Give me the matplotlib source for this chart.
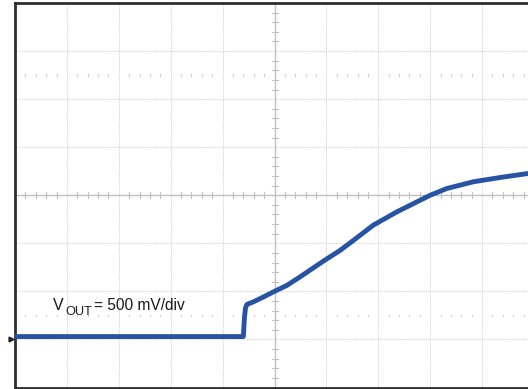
import matplotlib
matplotlib.use('Agg')
import matplotlib.pyplot as plt
import numpy as np

trace_x = [0.00, 4.40, 4.42, 4.44, 4.47, 4.59, 4.78, 4.98, 5.24, 5.49, 5.97,
           6.26, 6.52, 6.90, 7.35, 7.74, 8.00, 8.32, 8.83, 9.35, 9.90]
trace_y = [-2.94, -2.94, -2.56, -2.35, -2.27, -2.22, -2.12, -2.01, -1.875, -1.70,
           -1.35, -1.15, -0.94, -0.625, -0.35, -0.14, 0.00, 0.14, 0.28, 0.37, 0.455]
ground_level = -3.0
label_main = "V"
label_sub = "OUT"
label_rest = "= 500 mV/div"

W, H = 528, 389
fig = plt.figure(figsize=(W / 100, H / 100), dpi=100)
x0px, x1px = 15, 528
ytop, ybot = 3, 387.5
div_px = 51.9
ax = fig.add_axes([x0px / W, 1 - ybot / H, (x1px - x0px) / W, (ybot - ytop) / H])
xmax = (x1px - x0px) / div_px
ax.set_xlim(0, xmax)
ax.set_ylim(-4, 4)
ax.set_xticks([])
ax.set_yticks([])
for s in ['left', 'top', 'bottom']:
    ax.spines[s].set_linewidth(2.0)
    ax.spines[s].set_color('#2e2e2e')
ax.spines['right'].set_visible(False)

grid_c = '#d2d2d2'
dot_ls = (0, (1.0, 1.0))
for gx in range(1, 10):
    if gx == 5:
        continue
    ax.axvline(gx, color=grid_c, lw=0.75, ls=dot_ls, zorder=1)
for gy in range(-3, 4):
    if gy == 0:
        continue
    ax.axhline(gy, color=grid_c, lw=0.75, ls=dot_ls, zorder=1)
# centre lines (solid) with minor ticks
cc = '#c0c0c0'
ax.axvline(5, color=cc, lw=1.0, zorder=1)
ax.axhline(0, color=cc, lw=1.0, zorder=1)
hx = 3.0 / div_px
hy = 3.0 / 48.0
for k in np.arange(0.2, 10.0, 0.2):
    if abs(k - round(k)) < 1e-6:
        continue
    ax.plot([k, k], [-hy, hy], color=cc, lw=0.8, zorder=1)
for k in np.arange(-3.8, 4.0, 0.2):
    if abs(k - round(k)) < 1e-6:
        continue
    ax.plot([5 - hx, 5 + hx], [k, k], color=cc, lw=0.8, zorder=1)
# dot rows at +/-2.5 div
for k in np.arange(0.2, 10.0, 0.2):
    if abs(k - round(k)) < 1e-6:
        continue
    for r in (2.5, -2.5):
        ax.plot([k, k], [r - 0.015, r + 0.015], color='#d0d0d0', lw=0.8, zorder=1)

ax.plot(trace_x, trace_y, color='#2753a3', lw=3.5, solid_joinstyle='round',
        solid_capstyle='butt', zorder=3)

# ground marker
ax.plot([-0.07], [ground_level], marker='>', color='#222222', markersize=3.5,
        clip_on=False, zorder=4)

fam = ['Liberation Sans', 'DejaVu Sans']
tc = '#1a1a1a'
fig.text(53 / W, 1 - 310 / H, label_main, fontsize=11.5, family=fam, va='baseline', color=tc)
fig.text(65.5 / W, 1 - 315 / H, label_sub, fontsize=9.2, family=fam, va='baseline', color=tc)
fig.text(94.5 / W, 1 - 310 / H, label_rest, fontsize=11.2, family=fam, va='baseline', color=tc)

fig.savefig('out.png', dpi=100)
